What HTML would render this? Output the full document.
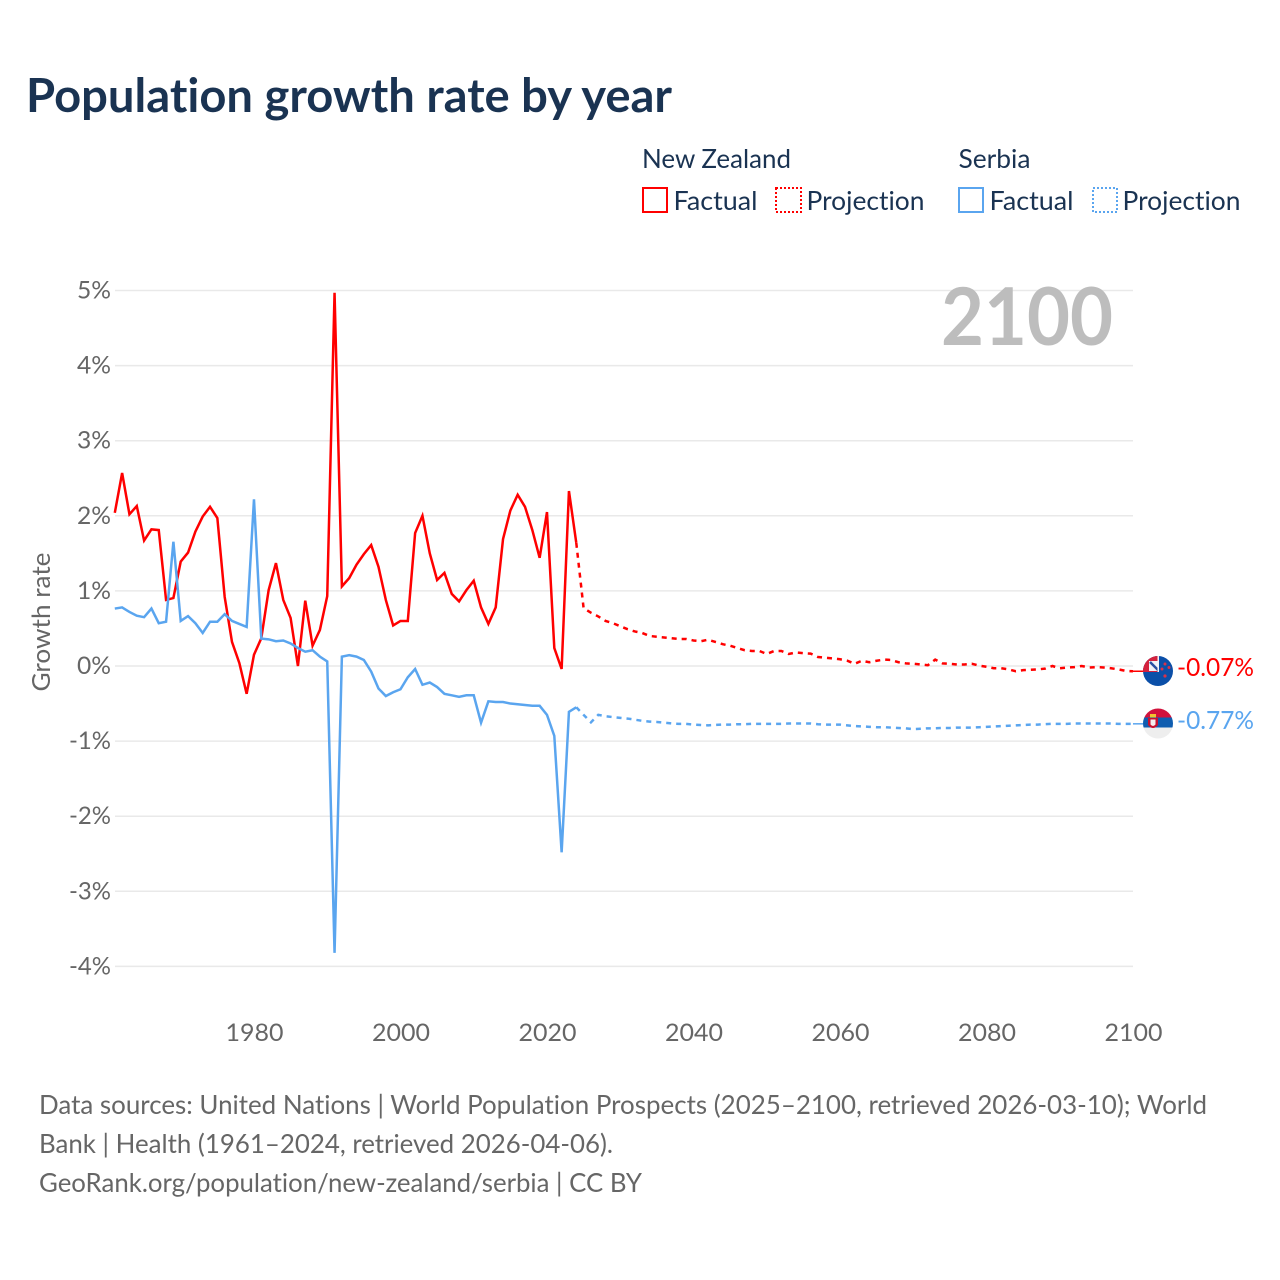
<!DOCTYPE html>
<html lang="en">
<head>
<meta charset="utf-8">
<title>Population growth rate by year</title>
<style>
html,body{margin:0;padding:0;background:#fff;width:1280px;height:1280px;overflow:hidden}
svg{display:block}
text{font-family:"Lato","Carlito","Liberation Sans",sans-serif;font-variant-ligatures:none;font-feature-settings:"liga" 0}
.legend-text{font-size:26px;fill:#1a3352}
.foot{font-size:26px;fill:#666}
.tick{font-size:24.5px;fill:#666}
</style>
</head>
<body>
<svg id="chart" xmlns="http://www.w3.org/2000/svg" width="1280" height="1280" viewBox="0 0 1280 1280">
  <defs>
    <clipPath id="clip-nz"><circle cx="1158" cy="671" r="15"/></clipPath>
    <clipPath id="clip-rs"><circle cx="1158" cy="723.5" r="15"/></clipPath>
  </defs>
  <text x="26" y="112" font-size="47" font-weight="700" fill="#1a3352" textLength="646" lengthAdjust="spacingAndGlyphs">Population growth rate by year</text>

  <g>
    <text class="legend-text" x="642" y="168" textLength="149" lengthAdjust="spacingAndGlyphs">New Zealand</text>
    <rect x="643" y="188" width="24" height="24" fill="none" stroke="#ff0000" stroke-width="2"/>
    <text class="legend-text" x="673.5" y="210" textLength="84" lengthAdjust="spacingAndGlyphs">Factual</text>
    <rect x="776" y="188" width="25" height="24" fill="none" stroke="#ff0000" stroke-width="2" stroke-dasharray="2 2"/>
    <text class="legend-text" x="806.5" y="210" textLength="118" lengthAdjust="spacingAndGlyphs">Projection</text>
    <text class="legend-text" x="958.5" y="168" textLength="72" lengthAdjust="spacingAndGlyphs">Serbia</text>
    <rect x="959" y="188" width="24" height="24" fill="none" stroke="#5aa5ef" stroke-width="2"/>
    <text class="legend-text" x="989.5" y="210" textLength="84" lengthAdjust="spacingAndGlyphs">Factual</text>
    <rect x="1093" y="188" width="24" height="24" fill="none" stroke="#5aa5ef" stroke-width="2" stroke-dasharray="2 2"/>
    <text class="legend-text" x="1122.5" y="210" textLength="118" lengthAdjust="spacingAndGlyphs">Projection</text>
  </g>

  <g id="grid"></g>
  <g id="yticks"></g>
  <g id="xticks"></g>
  <text transform="translate(50,622) rotate(-90)" text-anchor="middle" font-size="25" fill="#666" textLength="139" lengthAdjust="spacingAndGlyphs">Growth rate</text>
  <text x="941" y="345" font-size="80" font-weight="700" fill="#bdbdbd" textLength="172" lengthAdjust="spacingAndGlyphs">2100</text>

  <g id="series"></g>

  <g clip-path="url(#clip-nz)">
    <rect x="1143" y="656" width="30" height="30" fill="#0b4fa8"/>
    <rect x="1143" y="656" width="16" height="16" fill="#d4213d"/>
    <rect x="1149" y="661" width="10" height="10" fill="#f2f2f6"/>
    <path d="M1150 662 L1159 671" stroke="#2a4fa0" stroke-width="2.5"/>
    <rect x="1157.5" y="656" width="1.5" height="16" fill="#f2f2f6"/>
    <circle cx="1165" cy="664" r="1.5" fill="#d8324a"/><circle cx="1169" cy="667.5" r="1.5" fill="#d8324a"/><circle cx="1162" cy="669" r="1.5" fill="#d8324a"/><circle cx="1165" cy="676" r="1.6" fill="#d8324a"/>
  </g>
  <g clip-path="url(#clip-rs)">
    <rect x="1143" y="708" width="30" height="9.5" fill="#d2123c"/>
    <rect x="1143" y="717.5" width="30" height="10" fill="#0f5db0"/>
    <rect x="1143" y="727.5" width="30" height="12" fill="#eeeeee"/>
    <path d="M1148 718 h10 v7 q-5 6 -10 0 z" fill="#c8102e"/>
    <path d="M1150.5 719.5 h5 v5 q-2.5 3 -5 0 z" fill="#f6eeee"/>
    <rect x="1150" y="714" width="6" height="3.5" fill="#f2c230"/>
  </g>
  <text x="1177" y="676" font-size="25.5" fill="#ff0000" textLength="77" lengthAdjust="spacingAndGlyphs">-0.07%</text>
  <text x="1177" y="729" font-size="25.5" fill="#5aa5ef" textLength="77" lengthAdjust="spacingAndGlyphs">-0.77%</text>

  <g>
    <text class="foot" x="39" y="1114" textLength="1168" lengthAdjust="spacingAndGlyphs">Data sources: United Nations | World Population Prospects (2025–2100, retrieved 2026-03-10); World</text>
    <text class="foot" x="39" y="1153" textLength="574" lengthAdjust="spacingAndGlyphs">Bank | Health (1961–2024, retrieved 2026-04-06).</text>
    <text class="foot" x="39" y="1192" textLength="603" lengthAdjust="spacingAndGlyphs">GeoRank.org/population/new-zealand/serbia | CC BY</text>
  </g>
</svg>
<script>
const firstYear = 1961;
const lastActualYear = 2024;
const yTickValues = [5,4,3,2,1,0,-1,-2,-3,-4];
const xTickYears = [1980,2000,2020,2040,2060,2080,2100];
const nzFactual = [2.04,2.57,2.02,2.13,1.67,1.82,1.81,0.88,0.905,1.39,1.51,1.79,1.99,2.12,1.97,0.92,0.32,0.04,-0.37,0.15,0.37,1.01,1.37,0.88,0.64,0.0,0.87,0.27,0.48,0.93,4.97,1.06,1.17,1.35,1.49,1.61,1.32,0.88,0.54,0.60,0.60,1.77,2.00,1.50,1.145,1.24,0.96,0.86,1.01,1.135,0.78,0.56,0.78,1.69,2.07,2.28,2.12,1.81,1.44,2.05,0.24,-0.04,2.33,1.64];
const nzProjection = [0.77,0.71,0.66,0.60,0.57,0.53,0.49,0.46,0.44,0.40,0.39,0.38,0.37,0.36,0.36,0.34,0.33,0.35,0.32,0.29,0.27,0.24,0.21,0.20,0.20,0.16,0.20,0.20,0.16,0.18,0.17,0.165,0.12,0.11,0.10,0.09,0.07,0.03,0.07,0.05,0.07,0.085,0.08,0.05,0.035,0.03,0.02,0.01,0.085,0.035,0.03,0.02,0.02,0.03,0.005,-0.01,-0.03,-0.03,-0.045,-0.07,-0.055,-0.05,-0.045,-0.035,0.0,-0.03,-0.02,-0.015,0.0,-0.02,-0.015,-0.02,-0.03,-0.045,-0.065,-0.07];
const rsFactual = [0.765,0.78,0.72,0.67,0.65,0.765,0.57,0.59,1.655,0.60,0.665,0.57,0.44,0.59,0.59,0.69,0.60,0.56,0.52,2.22,0.365,0.355,0.33,0.34,0.30,0.24,0.19,0.21,0.125,0.06,-3.82,0.125,0.145,0.125,0.08,-0.075,-0.30,-0.40,-0.35,-0.31,-0.15,-0.04,-0.25,-0.22,-0.28,-0.37,-0.39,-0.41,-0.39,-0.39,-0.755,-0.47,-0.48,-0.48,-0.50,-0.51,-0.52,-0.53,-0.53,-0.65,-0.93,-2.48,-0.61,-0.55];
const rsProjection = [-0.65,-0.75,-0.65,-0.67,-0.68,-0.69,-0.70,-0.715,-0.73,-0.74,-0.745,-0.755,-0.765,-0.77,-0.77,-0.78,-0.785,-0.79,-0.785,-0.78,-0.78,-0.775,-0.775,-0.77,-0.77,-0.77,-0.77,-0.77,-0.765,-0.765,-0.765,-0.765,-0.775,-0.78,-0.78,-0.78,-0.79,-0.80,-0.805,-0.81,-0.815,-0.815,-0.82,-0.825,-0.83,-0.84,-0.835,-0.83,-0.83,-0.825,-0.825,-0.82,-0.82,-0.82,-0.815,-0.81,-0.805,-0.80,-0.795,-0.79,-0.785,-0.78,-0.78,-0.775,-0.77,-0.77,-0.77,-0.765,-0.765,-0.765,-0.765,-0.765,-0.765,-0.77,-0.77,-0.77];

const NS = 'http://www.w3.org/2000/svg';
const xOf = function (year) { return 114.8 + (year - firstYear) * 7.325; };
const yOf = function (v) { return 666 - v * 75.1; };
const tickWidth = function (s) {
  let w = 0;
  for (const c of s) { w += c === '%' ? 19.5 : c === '-' ? 8 : 14.5; }
  return w;
};

const gridG = document.getElementById('grid');
const yG = document.getElementById('yticks');
const xG = document.getElementById('xticks');
const seriesG = document.getElementById('series');

yTickValues.forEach(function (v) {
  const l = document.createElementNS(NS, 'line');
  
  
  l.setAttribute('x1', 115);
  l.setAttribute('x2', 1133);
  l.setAttribute('y1', yOf(v));
  l.setAttribute('y2', yOf(v));
  l.setAttribute('stroke', '#e9e9e9');
  l.setAttribute('stroke-width', '1.5');
  gridG.appendChild(l);
  const t = document.createElementNS(NS, 'text');
  const s = v + '%';
  
  
  t.setAttribute('class', 'tick');
  t.setAttribute('x', 111 - tickWidth(s));
  t.setAttribute('y', yOf(v) + 8);
  t.setAttribute('textLength', tickWidth(s));
  t.setAttribute('lengthAdjust', 'spacingAndGlyphs');
  t.textContent = s;
  yG.appendChild(t);
});

xTickYears.forEach(function (yr) {
  const t = document.createElementNS(NS, 'text');
  
  
  t.setAttribute('class', 'tick');
  t.setAttribute('x', xOf(yr) - 28.5);
  t.setAttribute('y', 1041);
  t.setAttribute('textLength', 58);
  t.setAttribute('lengthAdjust', 'spacingAndGlyphs');
  t.textContent = String(yr);
  xG.appendChild(t);
});

function drawLine(values, startYear, color, dashed, name) {
  const pts = values.map(function (v, i) {
    return xOf(startYear + i).toFixed(2) + ',' + yOf(v).toFixed(2);
  }).join(' ');
  const p = document.createElementNS(NS, 'polyline');
  
  
  p.setAttribute('points', pts);
  p.setAttribute('fill', 'none');
  p.setAttribute('stroke', color);
  p.setAttribute('stroke-width', '2.5');
  p.setAttribute('stroke-linejoin', 'miter');
  if (dashed) { p.setAttribute('stroke-dasharray', '5 5'); }
  seriesG.appendChild(p);
}

function drawConnector(value, color, name) {
  const c = document.createElementNS(NS, 'line');
  
  
  c.setAttribute('x1', xOf(2100));
  c.setAttribute('x2', 1143);
  c.setAttribute('y1', yOf(value));
  c.setAttribute('y2', yOf(value));
  c.setAttribute('stroke', color);
  c.setAttribute('stroke-width', '1.5');
  seriesG.appendChild(c);
}

drawLine([nzFactual[nzFactual.length - 1]].concat(nzProjection), lastActualYear, '#ff0000', true, 'line-new-zealand-projection');
drawLine([rsFactual[rsFactual.length - 1]].concat(rsProjection), lastActualYear, '#5aa5ef', true, 'line-serbia-projection');
drawLine(nzFactual, firstYear, '#ff0000', false, 'line-new-zealand-factual');
drawLine(rsFactual, firstYear, '#5aa5ef', false, 'line-serbia-factual');
drawConnector(nzProjection[nzProjection.length - 1], '#ff0000', 'connector-new-zealand');
drawConnector(rsProjection[rsProjection.length - 1], '#5aa5ef', 'connector-serbia');
</script>
</body>
</html>
